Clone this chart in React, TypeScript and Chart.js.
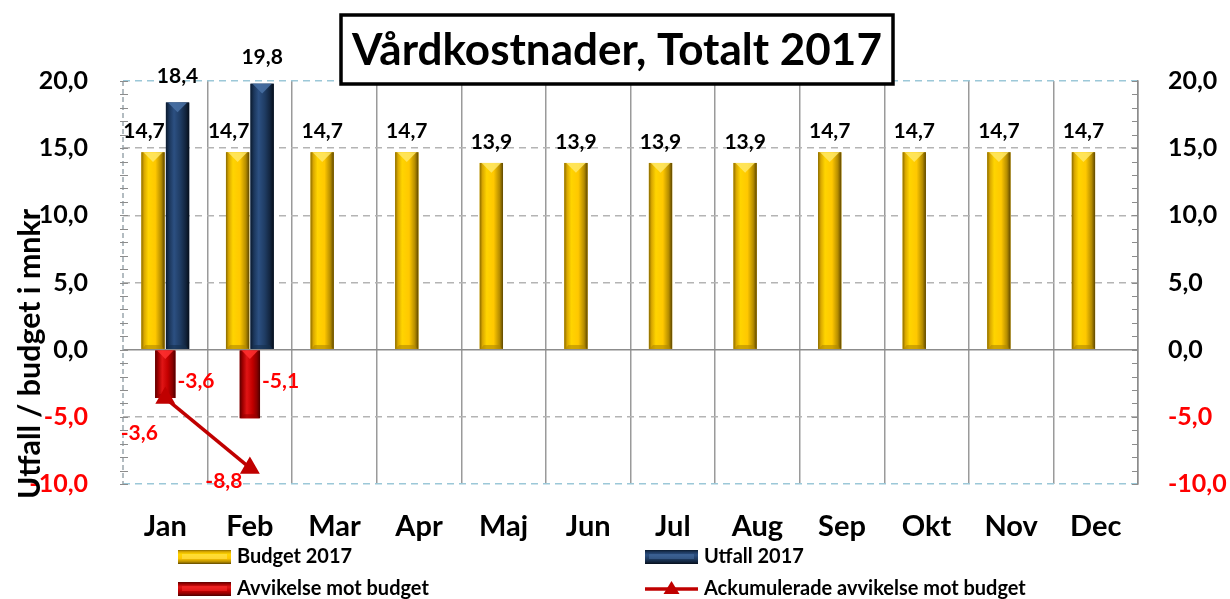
import React, { useEffect, useRef } from 'react';
import { Chart, registerables } from 'chart.js';

Chart.register(...registerables);

// ---------------- data ----------------
const months = ['Jan', 'Feb', 'Mar', 'Apr', 'Maj', 'Jun', 'Jul', 'Aug', 'Sep', 'Okt', 'Nov', 'Dec'];
const budget2017 = [14.7, 14.7, 14.7, 14.7, 13.9, 13.9, 13.9, 13.9, 14.7, 14.7, 14.7, 14.7];
const utfall2017 = [18.4, 19.8, null, null, null, null, null, null, null, null, null, null];
const avvikelse = [-3.6, -5.1, null, null, null, null, null, null, null, null, null, null];
const ackumulerad = [-3.6, -8.8, null, null, null, null, null, null, null, null, null, null];
const yMin = -10;
const yMax = 20;
const yStep = 5;
const seriesNames = ['Budget 2017', 'Utfall 2017', 'Avvikelse mot budget', 'Ackumulerade avvikelse mot budget'];
const chartTitle = 'Vårdkostnader, Totalt 2017';
const yAxisTitle = 'Utfall / budget i mnkr';

// ---------------- style ----------------
const FAMILY = 'Lato, "Open Sans", "DejaVu Sans", sans-serif';
const RED_TEXT = '#FF0000';
const LINE_RED = '#C00000';
const fmt = (v: number) => v.toFixed(1).replace('.', ',');

const SHADES: any = {
  0: { stops: [[0, '#8a6b00'], [0.12, '#d9a800'], [0.3, '#ffd400'], [0.6, '#ffc800'], [0.85, '#b58c00'], [1, '#5e4700']], v: '#ffe866', foot: '#b08800' },
  1: { stops: [[0, '#0a1a2e'], [0.15, '#1c375c'], [0.35, '#2c5082'], [0.62, '#1f3c63'], [0.85, '#12243d'], [1, '#060e1a']], v: '#4a72a6', foot: '#16304f' },
  2: { stops: [[0, '#5c0000'], [0.15, '#a00000'], [0.35, '#e01515'], [0.62, '#c40000'], [0.85, '#8a0000'], [1, '#4a0000']], v: '#ff3030', foot: '#9a0000' },
};

function fitSize(ctx: CanvasRenderingContext2D, text: string, width: number) {
  ctx.font = `bold 100px ${FAMILY}`;
  const w = ctx.measureText(text).width;
  return (100 * width) / w;
}

const decorPlugin = {
  id: 'decor',
  beforeDatasetsDraw(chart: any) {
    const ctx = chart.ctx as CanvasRenderingContext2D;
    const { top, bottom, left, right } = chart.chartArea;
    const y = chart.scales.y;
    ctx.save();
    // left axis line (dashed)
    ctx.strokeStyle = '#9aa6ad';
    ctx.lineWidth = 1.5;
    ctx.setLineDash([5, 3]);
    ctx.beginPath();
    ctx.moveTo(left, top);
    ctx.lineTo(left, bottom);
    ctx.stroke();
    ctx.setLineDash([]);
    // minor tick marks on both axes
    ctx.strokeStyle = '#8c8c8c';
    ctx.lineWidth = 1.2;
    for (let v = yMin; v <= yMax; v += 1) {
      const py = Math.round(y.getPixelForValue(v)) + 0.5;
      ctx.beginPath();
      ctx.moveTo(left - 3, py);
      ctx.lineTo(left + 5, py);
      ctx.moveTo(right - 6, py);
      ctx.lineTo(right, py);
      ctx.stroke();
    }
    ctx.restore();
  },
  afterDatasetDraw(chart: any, args: any) {
    const meta = args.meta;
    if (meta.type !== 'bar') return;
    const shade = SHADES[args.index];
    if (!shade) return;
    const ctx = chart.ctx as CanvasRenderingContext2D;
    const data = chart.data.datasets[args.index].data;
    ctx.save();
    meta.data.forEach((el: any, i: number) => {
      if (data[i] == null) return;
      const { x, y, base, width } = el.getProps(['x', 'y', 'base', 'width'], true);
      const l = x - width / 2;
      const r = x + width / 2;
      const t = Math.min(y, base);
      const b = Math.max(y, base);
      const g = ctx.createLinearGradient(l, 0, r, 0);
      shade.stops.forEach((s: any) => g.addColorStop(s[0], s[1]));
      ctx.fillStyle = g;
      ctx.fillRect(l, t, width, b - t);
      const bev = Math.min(width * 0.42, (b - t) / 2);
      // lighter V facet at the top
      ctx.fillStyle = shade.v;
      ctx.globalAlpha = 0.85;
      ctx.beginPath();
      ctx.moveTo(l + 2, t);
      ctx.lineTo(r - 2, t);
      ctx.lineTo(x, t + bev);
      ctx.closePath();
      ctx.fill();
      // foot facet
      ctx.globalAlpha = 0.6;
      ctx.fillStyle = shade.foot;
      ctx.beginPath();
      ctx.moveTo(l + 1, b);
      ctx.lineTo(r - 1, b);
      ctx.lineTo(r - 4, b - 4);
      ctx.lineTo(l + 4, b - 4);
      ctx.closePath();
      ctx.fill();
      ctx.globalAlpha = 1;
    });
    ctx.restore();
  },
  afterDraw(chart: any) {
    const ctx = chart.ctx as CanvasRenderingContext2D;
    const { bottom } = chart.chartArea;
    const yS = chart.scales.y;
    const zeroY = yS.getPixelForValue(0);
    const ds = chart.data.datasets;
    ctx.save();
    ctx.textBaseline = 'middle';

    // ---- data labels ----
    const labelFont = `bold 21px ${FAMILY}`;
    ctx.font = labelFont;
    // budget
    chart.getDatasetMeta(0).data.forEach((el: any, i: number) => {
      const v = ds[0].data[i];
      if (v == null) return;
      const shift = ds[1].data[i] != null ? -9 : 0;
      ctx.fillStyle = '#000';
      ctx.textAlign = 'center';
      ctx.fillText(fmt(v), el.x + shift, el.y - 21);
    });
    // utfall
    chart.getDatasetMeta(1).data.forEach((el: any, i: number) => {
      const v = ds[1].data[i];
      if (v == null) return;
      ctx.fillStyle = '#000';
      ctx.textAlign = 'center';
      ctx.fillText(fmt(v), el.x, el.y - 26);
    });
    // avvikelse
    chart.getDatasetMeta(2).data.forEach((el: any, i: number) => {
      const v = ds[2].data[i];
      if (v == null) return;
      ctx.fillStyle = RED_TEXT;
      ctx.textAlign = 'left';
      ctx.fillText(fmt(v), el.x + el.width / 2 + 2, zeroY + 32);
    });
    // ackumulerad
    chart.getDatasetMeta(3).data.forEach((el: any, i: number) => {
      const v = ds[3].data[i];
      if (v == null) return;
      ctx.fillStyle = RED_TEXT;
      ctx.textAlign = 'center';
      ctx.fillText(fmt(v), el.x - 26, Math.min(el.y + 35, bottom - 3));
    });

    // ---- title box ----
    const bx = 341, by = 15, bw = 552, bh = 69;
    ctx.fillStyle = '#fff';
    ctx.fillRect(bx, by, bw, bh);
    ctx.strokeStyle = '#000';
    ctx.lineWidth = 3.5;
    ctx.strokeRect(bx, by, bw, bh);
    const ts = Math.min(fitSize(ctx, chartTitle, 530), 50);
    ctx.font = `bold ${ts}px ${FAMILY}`;
    ctx.fillStyle = '#000';
    ctx.textAlign = 'center';
    ctx.fillText(chartTitle, bx + bw / 2, by + bh / 2 + 1);

    // ---- y axis title ----
    const ys = fitSize(ctx, yAxisTitle, 290);
    ctx.save();
    ctx.translate(30, 354);
    ctx.rotate(-Math.PI / 2);
    ctx.font = `bold ${ys}px ${FAMILY}`;
    ctx.fillStyle = '#000';
    ctx.textAlign = 'center';
    ctx.fillText(yAxisTitle, 0, 0);
    ctx.restore();

    // ---- legend ----
    const legSize = fitSize(ctx, seriesNames[3], 322);
    const cols = [178, 645];
    const rows = [557, 589];
    ds.forEach((d: any, i: number) => {
      const sx = cols[i % 2];
      const sy = rows[Math.floor(i / 2)];
      const sw = 53;
      if (d.type === 'line') {
        ctx.strokeStyle = LINE_RED;
        ctx.lineWidth = 3.5;
        ctx.beginPath();
        ctx.moveTo(sx, sy);
        ctx.lineTo(sx + sw, sy);
        ctx.stroke();
        ctx.fillStyle = LINE_RED;
        ctx.beginPath();
        ctx.moveTo(sx + sw / 2, sy - 8);
        ctx.lineTo(sx + sw / 2 + 8, sy + 5);
        ctx.lineTo(sx + sw / 2 - 8, sy + 5);
        ctx.closePath();
        ctx.fill();
      } else {
        const shade = SHADES[i];
        const g = ctx.createLinearGradient(0, sy - 7, 0, sy + 7);
        shade.stops.forEach((s: any) => g.addColorStop(s[0], s[1]));
        ctx.fillStyle = g;
        ctx.fillRect(sx, sy - 7, sw, 14);
        ctx.fillStyle = shade.v;
        ctx.globalAlpha = 0.5;
        ctx.fillRect(sx + 4, sy - 3, sw - 8, 5);
        ctx.globalAlpha = 1;
      }
      ctx.font = `bold ${legSize}px ${FAMILY}`;
      ctx.fillStyle = '#000';
      ctx.textAlign = 'left';
      ctx.fillText(d.label, sx + sw + 6, sy);
    });
    ctx.restore();
  },
};

const tickFont = { family: FAMILY, size: 25, weight: 'bold' as const };

export default function App() {
  const ref = useRef<HTMLCanvasElement | null>(null);

  useEffect(() => {
    document.body.style.margin = '0';
    const canvas = ref.current;
    if (!canvas) return;
    const gridColor = (v: number) => {
      if (v === 0) return '#8c8c8c';
      if (v === yMin || v === yMax) return '#9cc8d8';
      return '#b4b4b4';
    };
    const chart = new Chart(canvas, {
      type: 'bar',
      data: {
        labels: months,
        datasets: [
          {
            type: 'bar',
            label: seriesNames[0],
            data: budget2017,
            backgroundColor: '#FFC800',
            categoryPercentage: 0.58,
            barPercentage: 0.95,
            yAxisID: 'y',
            order: 1,
          },
          {
            type: 'bar',
            label: seriesNames[1],
            data: utfall2017,
            backgroundColor: '#1F3A60',
            categoryPercentage: 0.58,
            barPercentage: 0.95,
            yAxisID: 'y',
            order: 2,
          },
          {
            type: 'bar',
            label: seriesNames[2],
            data: avvikelse,
            backgroundColor: '#C00000',
            grouped: false,
            categoryPercentage: 0.24,
            barPercentage: 1,
            yAxisID: 'y',
            order: 3,
          },
          {
            type: 'line',
            label: seriesNames[3],
            data: ackumulerad,
            borderColor: LINE_RED,
            backgroundColor: LINE_RED,
            borderWidth: 3.5,
            pointStyle: 'triangle',
            pointRadius: 8,
            pointBackgroundColor: LINE_RED,
            pointBorderColor: LINE_RED,
            spanGaps: false,
            yAxisID: 'y',
            order: 0,
          },
        ] as any,
      },
      options: {
        animation: false,
        responsive: false,
        maintainAspectRatio: false,
        devicePixelRatio: 1,
        layout: { padding: { top: 81, bottom: 55, left: 0, right: 0 } },
        plugins: {
          legend: { display: false },
          title: { display: false },
          tooltip: { enabled: false },
        },
        scales: {
          x: {
            offset: true,
            grid: {
              offset: true,
              drawTicks: false,
              color: (c: any) => (c.index === 0 ? 'rgba(0,0,0,0)' : '#9a9a9a'),
              lineWidth: 1.5,
            },
            border: { display: false },
            ticks: {
              color: '#000',
              font: { family: FAMILY, size: 29, weight: 'bold' },
              padding: 25,
              maxRotation: 0,
              autoSkip: false,
            },
            afterFit: (s: any) => {
              s.height = 60;
            },
          },
          y: {
            position: 'left',
            min: yMin,
            max: yMax,
            ticks: {
              stepSize: yStep,
              padding: 35,
              color: (c: any) => (c.tick && c.tick.value < 0 ? RED_TEXT : '#000'),
              font: tickFont,
              callback: (v: any) => fmt(Number(v)),
            },
            grid: {
              drawTicks: false,
              color: (c: any) => gridColor(c.tick ? c.tick.value : 0),
              lineWidth: 1.5,
            },
            border: {
              display: false,
              dash: (c: any) => (c.tick && c.tick.value !== 0 ? [7, 5] : []),
            },
            afterFit: (s: any) => {
              s.width = 123;
            },
          },
          y2: {
            position: 'right',
            min: yMin,
            max: yMax,
            ticks: {
              stepSize: yStep,
              padding: 30,
              color: (c: any) => (c.tick && c.tick.value < 0 ? RED_TEXT : '#000'),
              font: tickFont,
              callback: (v: any) => fmt(Number(v)),
            },
            grid: { drawOnChartArea: false, drawTicks: false },
            border: { display: true, color: '#8c8c8c', width: 1.5 },
            afterFit: (s: any) => {
              s.width = 92;
            },
          },
        },
      } as any,
      plugins: [decorPlugin],
    });
    return () => chart.destroy();
  }, []);

  return (
    <div style={{ position: 'absolute', left: 0, top: 0, width: 1230, height: 599, background: '#fff' }}>
      <canvas ref={ref} width={1230} height={599} style={{ display: 'block', width: 1230, height: 599 }} />
    </div>
  );
}
